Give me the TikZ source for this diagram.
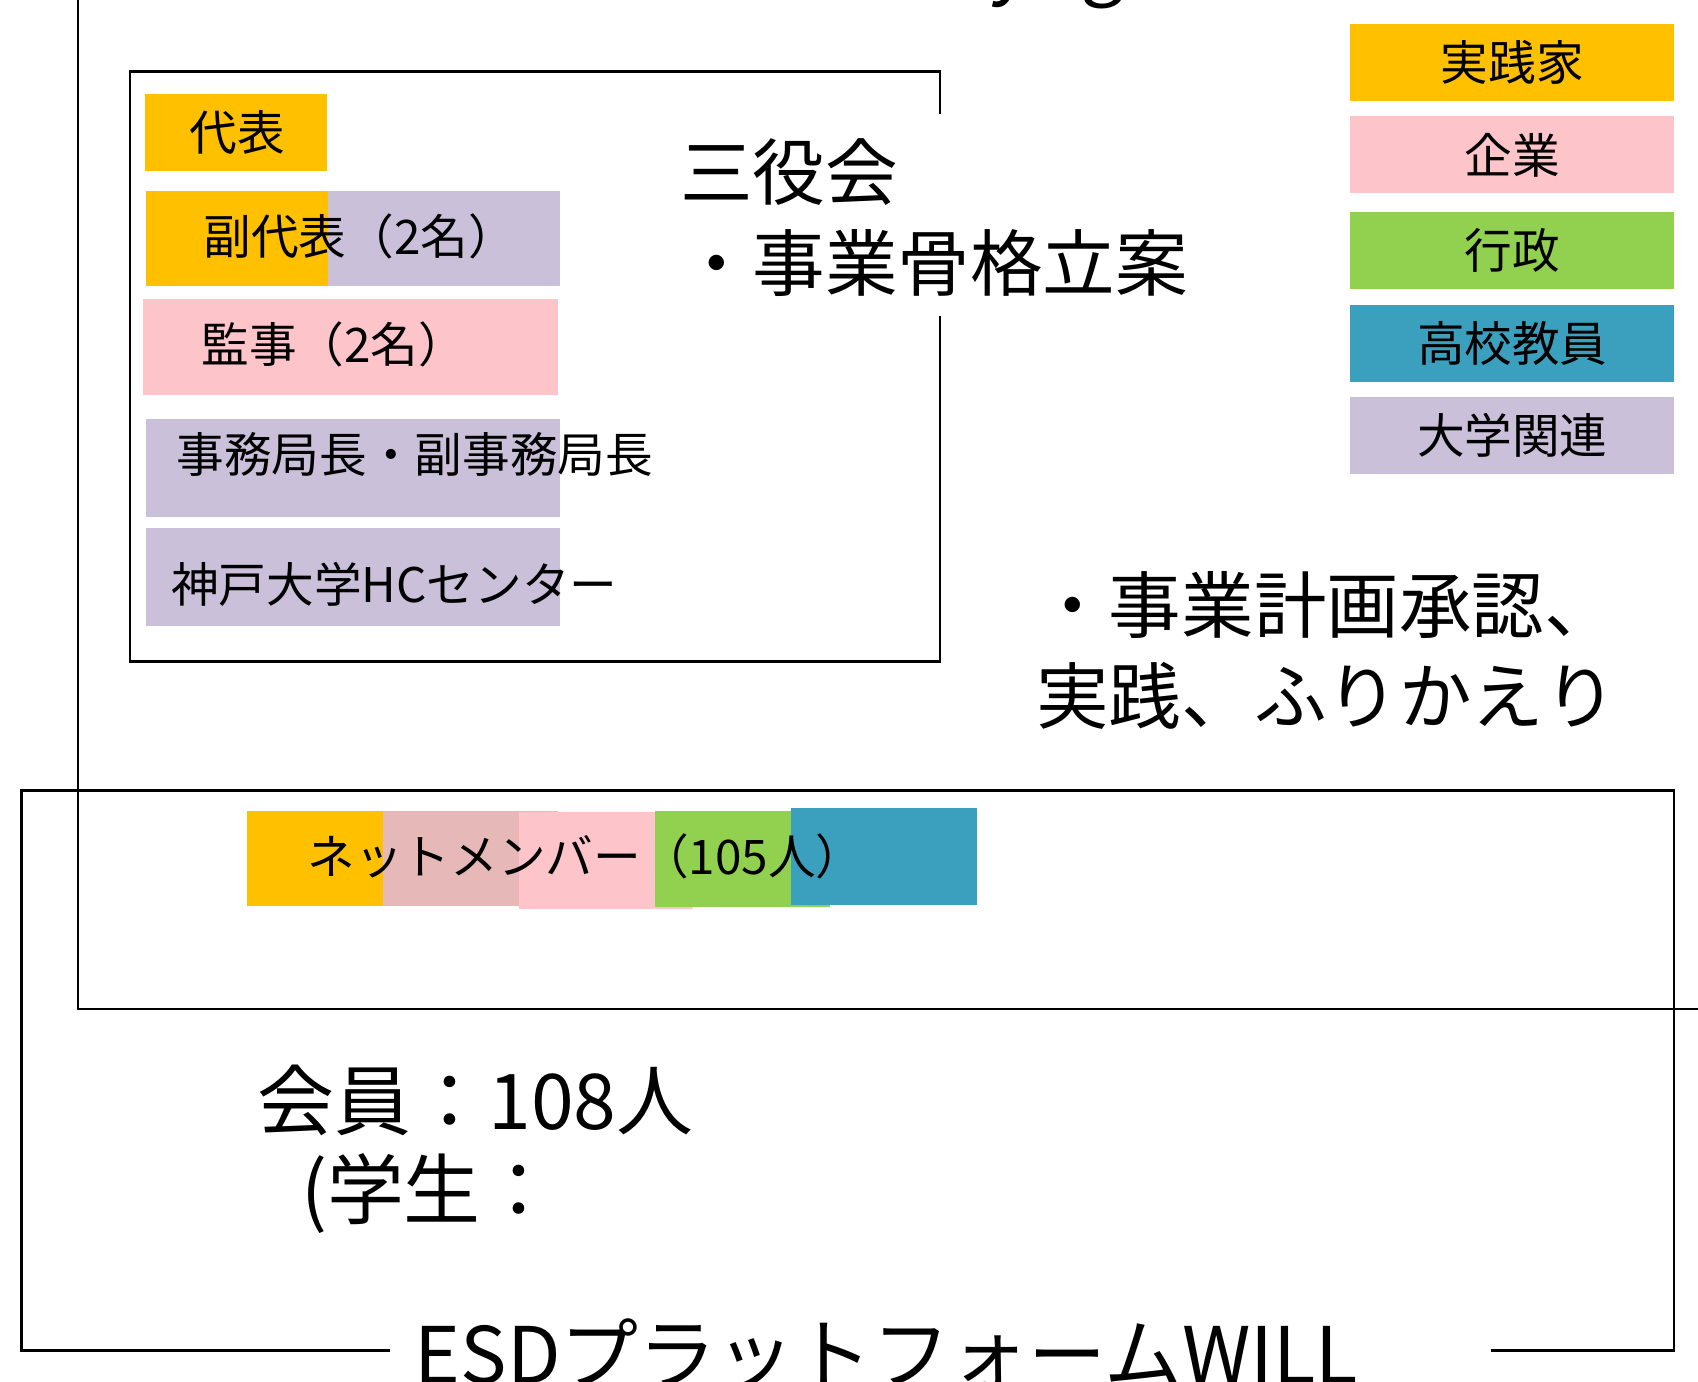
\documentclass[tikz,border=0pt]{standalone}
\usepackage{fontspec}
\setmainfont{Noto Sans CJK JP}
\definecolor{cOrange}{HTML}{FFC000}
\definecolor{cPink}{HTML}{FDC4CA}
\definecolor{cGreen}{HTML}{92D050}
\definecolor{cTeal}{HTML}{3BA0BD}
\definecolor{cLav}{HTML}{CBC0DA}
\definecolor{cDusky}{HTML}{E6B8B8}
\begin{document}
\begin{tikzpicture}[x=0.5pt,y=-0.5pt,
  frame/.style={draw=black,line width=1.1pt},
  lab/.style={inner sep=0pt,outer sep=0pt,font=\fontsize{22}{26}\selectfont,anchor=west},
  legendbox/.style={inner sep=0pt,outer sep=0pt,minimum width=149.5pt,minimum height=35.5pt,font=\fontsize{22}{26}\selectfont},
  big/.style={inner sep=0pt,outer sep=0pt,font=\fontsize{33.5}{42}\selectfont,anchor=base west,align=left},
  title/.style={inner sep=0pt,outer sep=0pt,font=\fontsize{36}{42}\selectfont,anchor=base west}]
\useasboundingbox (0,0) rectangle (1568,1276);
\clip (0,0) rectangle (1568,1276);
\fill[white] (0,0) rectangle (1568,1276);

% cut-off title fragments at the top
\node[title] (topy) at (914,-10) {y};
\node[title] (topg) at (998,-10) {g};

% upper frame (board)
\draw[frame] (72,-5) -- (72,932) -- (1575,932);

% three-officers frame with gap for the text
\draw[frame] (868,105) -- (868,66) -- (120,66) -- (120,611) -- (868,611) -- (868,292);

% officer boxes
\fill[cOrange] (134,87) rectangle (302,158);
\node[lab] (daihyo) at (175,122) {代表};

\fill[cOrange] (135,176) rectangle (303,264);
\fill[cLav] (303,176) rectangle (517,264);
\node[lab] (fuku) at (188,218) {副代表（2名）};

\fill[cPink] (132,276) rectangle (515,365);
\node[lab] (kanji) at (186,318) {監事（2名）};

\fill[cLav] (135,387) rectangle (517,477);
\node[lab] (jimu) at (163,420) {事務局長・副事務局長};

\fill[cLav] (135,488) rectangle (517,578);
\node[lab] (kobe) at (158,540) {神戸大学HCセンター};

% three-officers text (base anchor = last line)
\node[big] (sanyaku) at (628,268) {三役会\\・事業骨格立案};

% right text
\node[big] (keikaku) at (957,668) {・事業計画承認、\\実践、ふりかえり};

% legend
\node[legendbox,fill=cOrange] (lg1) at (1396.5,57.5) {実践家};
\node[legendbox,fill=cPink] (lg2) at (1396.5,143) {企業};
\node[legendbox,fill=cGreen] (lg3) at (1396.5,231) {行政};
\node[legendbox,fill=cTeal] (lg4) at (1396.5,317.5) {高校教員};
\node[legendbox,fill=cLav] (lg5) at (1396.5,402) {大学関連};

% outer frame (platform) with gap for title
\draw[frame] (360,1247) -- (20,1247) -- (20,730) -- (1546,730) -- (1546,1247) -- (1377,1247);

% net members strip
\fill[cOrange] (228,749) rectangle (354,837);
\fill[cDusky] (354,749) rectangle (515,837);
\fill[cPink] (479,750) rectangle (640,839);
\fill[cGreen] (605,749) rectangle (766,838);
\fill[cTeal] (730,746) rectangle (902,836);
\node[lab] (net) at (284,791) {ネットメンバー（105人）};

% member count
\node[big,font=\fontsize{35.5}{42}\selectfont] (kaiin) at (238,1043) {会員：108人};
\node[big,font=\fontsize{35.5}{42}\selectfont] (gakusei) at (278,1125) {(学生：};

% platform title
\node[title] (esd) at (383,1278) {ESDプラットフォームWILL};
\end{tikzpicture}
\end{document}
